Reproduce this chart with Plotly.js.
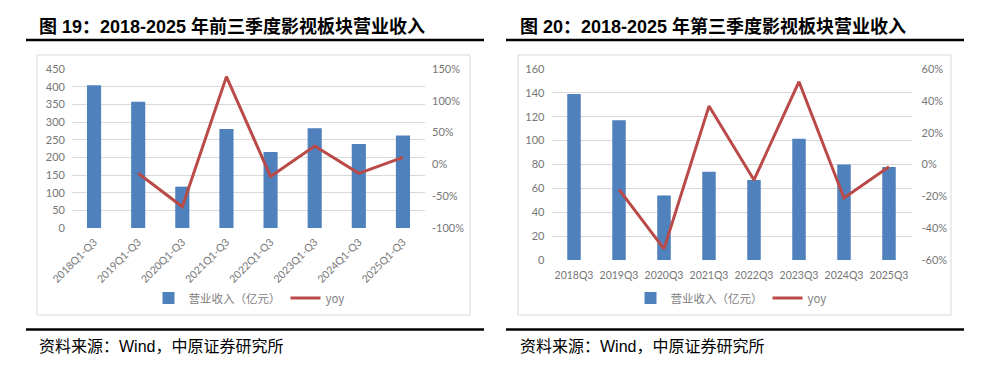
<!DOCTYPE html>
<html>
<head>
<meta charset="utf-8">
<script src="https://cdn.plot.ly/plotly-3.0.1.min.js"></script>
<style>html,body{margin:0;padding:0;background:#fff;}#chart{width:991px;height:371px;}</style>
</head>
<body>
<div id="chart"></div>
<script>
// ---- Data: chart 19 (前三季度) ----
const categories1 = ['2018Q1-Q3','2019Q1-Q3','2020Q1-Q3','2021Q1-Q3','2022Q1-Q3','2023Q1-Q3','2024Q1-Q3','2025Q1-Q3'];
const revenue1 = [404, 357, 117, 280, 215, 282, 238, 262];
const yoy1 = [null, -0.14, -0.665, 1.38, -0.19, 0.29, -0.14, 0.11];
const leftTicks1 = [0, 50, 100, 150, 200, 250, 300, 350, 400, 450];
const rightTickVals1 = [-1, -0.5, 0, 0.5, 1, 1.5];
const rightTickText1 = ['-100%', '-50%', '0%', '50%', '100%', '150%'];

// ---- Data: chart 20 (第三季度) ----
const categories2 = ['2018Q3','2019Q3','2020Q3','2021Q3','2022Q3','2023Q3','2024Q3','2025Q3'];
const revenue2 = [139, 117, 54, 74, 67, 101.6, 80, 78];
const yoy2 = [null, -0.156, -0.53, 0.367, -0.097, 0.52, -0.21, -0.014];
const leftTicks2 = [0, 20, 40, 60, 80, 100, 120, 140, 160];
const rightTickVals2 = [-0.6, -0.4, -0.2, 0, 0.2, 0.4, 0.6];
const rightTickText2 = ['-60%', '-40%', '-20%', '0%', '20%', '40%', '60%'];

const seriesNames = ['营业收入（亿元）', 'yoy'];
const titleNums = ['图 19：2018-2025', '图 20：2018-2025'];
const titleRest = [' 年前三季度影视板块营业收入', ' 年第三季度影视板块营业收入'];
const sourceText = '资料来源：Wind，中原证券研究所';

// ---- Layout helpers ----
const W = 991, H = 371;
const px = x => x / W;
const py = y => 1 - y / H;
const BAR = '#4f81bd', LINE = '#b94a48', GRID = '#d9d9d9', TICK = '#767676';
const tickFont = {family: 'Lato, "Liberation Sans", "Noto Sans CJK SC", sans-serif', size: 11, color: TICK};
const xTickFont = {family: 'Lato, "Liberation Sans", "Noto Sans CJK SC", sans-serif', size: 10.5, color: TICK};
const titleFont = {family: '"Liberation Sans", "Noto Sans CJK SC", sans-serif', size: 18, color: '#000'};
const srcFont = {family: '"Liberation Sans", "Noto Sans CJK SC", sans-serif', size: 16, color: '#000'};

const data = [
  {type: 'bar', x: categories1, y: revenue1, name: seriesNames[0], marker: {color: BAR}, width: 0.32, xaxis: 'x', yaxis: 'y', legend: 'legend'},
  {type: 'scatter', mode: 'lines', x: categories1, y: yoy1, name: seriesNames[1], line: {color: LINE, width: 3}, xaxis: 'x', yaxis: 'y2', legend: 'legend'},
  {type: 'bar', x: categories2, y: revenue2, name: seriesNames[0], marker: {color: BAR}, width: 0.3, xaxis: 'x2', yaxis: 'y3', legend: 'legend2'},
  {type: 'scatter', mode: 'lines', x: categories2, y: yoy2, name: seriesNames[1], line: {color: LINE, width: 3}, xaxis: 'x2', yaxis: 'y4', legend: 'legend2'}
];

const legendCommon = {orientation: 'h', xanchor: 'center', yanchor: 'middle', font: {family: '"Noto Sans CJK SC", Lato, sans-serif', size: 11.5, color: '#808080'}, bgcolor: 'rgba(0,0,0,0)', itemwidth: 30, tracegroupgap: 0};

const layout = {
  width: W, height: H,
  margin: {l: 0, r: 0, t: 0, b: 0},
  paper_bgcolor: '#fff', plot_bgcolor: 'rgba(0,0,0,0)',
  showlegend: true,
  xaxis: {domain: [px(72), px(425)], anchor: 'y', tickangle: -45, tickfont: xTickFont, showgrid: false, showline: false, zeroline: false, ticks: '', ticklabelstandoff: 5},
  yaxis: {domain: [py(228), py(69)], anchor: 'x', range: [0, 450], tickvals: leftTicks1, tickfont: tickFont, gridcolor: GRID, gridwidth: 1, zeroline: false, showline: false, ticklabelstandoff: 6},
  yaxis2: {overlaying: 'y', side: 'right', anchor: 'x', range: [-1, 1.5], tickvals: rightTickVals1, ticktext: rightTickText1, tickfont: tickFont, showgrid: false, zeroline: false, showline: false, ticklabelstandoff: 6},
  xaxis2: {domain: [px(551.5), px(911.5)], anchor: 'y3', tickangle: 0, tickfont: xTickFont, showgrid: false, showline: false, zeroline: false, ticks: '', ticklabelstandoff: 7},
  yaxis3: {domain: [py(260), py(69)], anchor: 'x2', range: [0, 160], tickvals: leftTicks2, tickfont: tickFont, gridcolor: GRID, gridwidth: 1, zeroline: false, showline: false, ticklabelstandoff: 6},
  yaxis4: {overlaying: 'y3', side: 'right', anchor: 'x2', range: [-0.6, 0.6], tickvals: rightTickVals2, ticktext: rightTickText2, tickfont: tickFont, showgrid: false, zeroline: false, showline: false, ticklabelstandoff: 9},
  legend: Object.assign({x: px(249), y: py(298)}, legendCommon),
  legend2: Object.assign({x: px(731), y: py(298)}, legendCommon),
  shapes: [
    {type: 'rect', xref: 'paper', yref: 'paper', x0: px(37), x1: px(470), y0: py(315), y1: py(55), line: {color: GRID, width: 1}, layer: 'below'},
    {type: 'rect', xref: 'paper', yref: 'paper', x0: px(518), x1: px(951), y0: py(315), y1: py(55), line: {color: GRID, width: 1}, layer: 'below'},
    {type: 'line', xref: 'paper', yref: 'paper', x0: px(26), x1: px(484), y0: py(40), y1: py(40), line: {color: '#000', width: 2.5}},
    {type: 'line', xref: 'paper', yref: 'paper', x0: px(26), x1: px(484), y0: py(329.5), y1: py(329.5), line: {color: '#000', width: 2.5}},
    {type: 'line', xref: 'paper', yref: 'paper', x0: px(506), x1: px(964), y0: py(40), y1: py(40), line: {color: '#000', width: 2.5}},
    {type: 'line', xref: 'paper', yref: 'paper', x0: px(506), x1: px(964), y0: py(329.5), y1: py(329.5), line: {color: '#000', width: 2.5}}
  ],
  annotations: [
    {xref: 'paper', yref: 'paper', x: px(37), y: py(26), xanchor: 'left', yanchor: 'middle', showarrow: false, text: '<b>' + titleNums[0] + titleRest[0] + '</b>', font: titleFont},
    {xref: 'paper', yref: 'paper', x: px(518), y: py(26), xanchor: 'left', yanchor: 'middle', showarrow: false, text: '<b>' + titleNums[1] + titleRest[1] + '</b>', font: titleFont},
    {xref: 'paper', yref: 'paper', x: px(37), y: py(346), xanchor: 'left', yanchor: 'middle', showarrow: false, text: sourceText, font: srcFont},
    {xref: 'paper', yref: 'paper', x: px(518), y: py(346), xanchor: 'left', yanchor: 'middle', showarrow: false, text: sourceText, font: srcFont}
  ]
};

Plotly.newPlot('chart', data, layout, {staticPlot: true, displayModeBar: false});
</script>
</body>
</html>
